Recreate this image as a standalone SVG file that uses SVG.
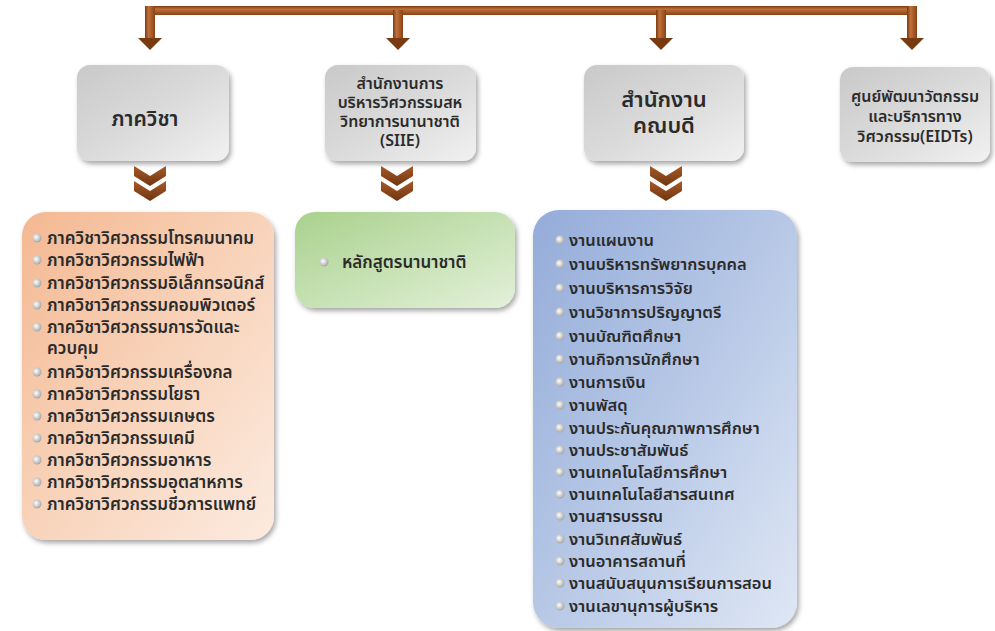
<svg xmlns="http://www.w3.org/2000/svg" width="995" height="631" viewBox="0 0 995 631">
<defs>
<linearGradient id="gGray" x1="0" y1="0" x2="1" y2="1">
<stop offset="0" stop-color="#c9c9c9"/>
<stop offset="0.5" stop-color="#dadada"/>
<stop offset="1" stop-color="#f1f1f1"/>
</linearGradient>
<linearGradient id="gOrange" x1="0" y1="0" x2="1" y2="1">
<stop offset="0" stop-color="#f4b892"/>
<stop offset="0.5" stop-color="#f8d3ba"/>
<stop offset="1" stop-color="#fcebe0"/>
</linearGradient>
<linearGradient id="gGreen" x1="0" y1="0" x2="1" y2="1">
<stop offset="0" stop-color="#a9d18e"/>
<stop offset="0.5" stop-color="#c6e1b3"/>
<stop offset="1" stop-color="#e3f0d9"/>
</linearGradient>
<linearGradient id="gBlue" x1="0" y1="0" x2="1" y2="1">
<stop offset="0" stop-color="#94acd9"/>
<stop offset="0.5" stop-color="#b7c8e6"/>
<stop offset="1" stop-color="#dfe7f5"/>
</linearGradient>
<linearGradient id="gBar" x1="0" y1="0" x2="0" y2="1">
<stop offset="0" stop-color="#7a3a10"/>
<stop offset="0.35" stop-color="#c0703a"/>
<stop offset="1" stop-color="#8a4316"/>
</linearGradient>
<linearGradient id="gBarV" x1="0" y1="0" x2="1" y2="0">
<stop offset="0" stop-color="#7a3a10"/>
<stop offset="0.35" stop-color="#c0703a"/>
<stop offset="1" stop-color="#8a4316"/>
</linearGradient>
<linearGradient id="gChev" x1="0" y1="0" x2="0" y2="1">
<stop offset="0" stop-color="#a85a28"/>
<stop offset="1" stop-color="#6e3510"/>
</linearGradient>
<radialGradient id="gBullet" cx="0.4" cy="0.4" r="0.6">
<stop offset="0" stop-color="#ffffff"/>
<stop offset="1" stop-color="#a8a8a8"/>
</radialGradient>
<filter id="shadow" x="-10%" y="-10%" width="125%" height="125%">
<feDropShadow dx="2" dy="3" stdDeviation="2.5" flood-color="#000" flood-opacity="0.35"/>
</filter>
<path id="chev" d="M-16,0 L0,10 L16,0 L16,10 L0,20 L-16,10 Z"/>
<path id="arrowHead" d="M-12,0 L12,0 L0,12 Z"/>
</defs>
<style>
text { font-family: "Noto Sans Thai", "Tahoma", "Noto Sans", "DejaVu Sans", sans-serif; fill: #2b2b2b; font-weight: 600; }
.head { font-size: 16px; text-anchor: middle; }
.headBig { font-size: 21px; text-anchor: middle; }
.headBig2 { font-size: 22px; text-anchor: middle; }
.item { font-size: 17px; }
.itemB { font-size: 16.5px; }
.bullet { fill: url(#gBullet); }
</style>

<g id="connectors">
<rect x="145" y="6" width="772" height="9" fill="url(#gBar)"/>
<rect x="145" y="6" width="10" height="32" fill="url(#gBarV)"/>
<rect x="393" y="10" width="10" height="28" fill="url(#gBarV)"/>
<rect x="656" y="10" width="10" height="28" fill="url(#gBarV)"/>
<rect x="907" y="6" width="10" height="32" fill="url(#gBarV)"/>
<use href="#arrowHead" x="150" y="38" fill="#7a3a10"/>
<use href="#arrowHead" x="398" y="38" fill="#7a3a10"/>
<use href="#arrowHead" x="661" y="38" fill="#7a3a10"/>
<use href="#arrowHead" x="912" y="38" fill="#7a3a10"/>
<use href="#chev" x="150" y="166" fill="url(#gChev)"/>
<use href="#chev" x="150" y="181" fill="url(#gChev)"/>
<use href="#chev" x="397" y="166" fill="url(#gChev)"/>
<use href="#chev" x="397" y="181" fill="url(#gChev)"/>
<use href="#chev" x="666" y="166" fill="url(#gChev)"/>
<use href="#chev" x="666" y="181" fill="url(#gChev)"/>
</g>

<g id="node-dept">
<rect x="77" y="65" width="152" height="96" rx="13" fill="url(#gGray)" filter="url(#shadow)"/>
<text class="headBig" x="145" y="126">ภาควิชา</text>
</g>

<g id="node-siie">
<rect x="325" y="65" width="151" height="96" rx="13" fill="url(#gGray)" filter="url(#shadow)"/>
<text class="head" x="400" y="89">สำนักงานการ</text>
<text class="head" x="400" y="108">บริหารวิศวกรรมสห</text>
<text class="head" x="400" y="127">วิทยาการนานาชาติ</text>
<text class="head" x="400" y="146">(SIIE)</text>
</g>

<g id="node-dean">
<rect x="584" y="65" width="160" height="96" rx="13" fill="url(#gGray)" filter="url(#shadow)"/>
<text class="headBig2" x="664" y="107">สำนักงาน</text>
<text class="headBig2" x="664" y="133">คณบดี</text>
</g>

<g id="node-eidts">
<rect x="840" y="67" width="150" height="95" rx="13" fill="url(#gGray)" filter="url(#shadow)"/>
<text class="head" x="915" y="102">ศูนย์พัฒนาวัตกรรม</text>
<text class="head" x="915" y="122">และบริการทาง</text>
<text class="head" x="915" y="142">วิศวกรรม(EIDTs)</text>
</g>

<g id="node-dept-list">
<rect x="22" y="212" width="252" height="328" rx="24" fill="url(#gOrange)" filter="url(#shadow)"/>
<g class="bullet">
<circle cx="37" cy="238" r="4.5"/>
<circle cx="37" cy="260" r="4.5"/>
<circle cx="37" cy="283" r="4.5"/>
<circle cx="37" cy="305" r="4.5"/>
<circle cx="37" cy="327" r="4.5"/>
<circle cx="37" cy="372" r="4.5"/>
<circle cx="37" cy="394" r="4.5"/>
<circle cx="37" cy="416" r="4.5"/>
<circle cx="37" cy="438" r="4.5"/>
<circle cx="37" cy="460" r="4.5"/>
<circle cx="37" cy="482" r="4.5"/>
<circle cx="37" cy="504" r="4.5"/>
</g>
<text class="item" x="47" y="244">ภาควิชาวิศวกรรมโทรคมนาคม</text>
<text class="item" x="47" y="266">ภาควิชาวิศวกรรมไฟฟ้า</text>
<text class="item" x="47" y="289">ภาควิชาวิศวกรรมอิเล็กทรอนิกส์</text>
<text class="item" x="47" y="311">ภาควิชาวิศวกรรมคอมพิวเตอร์</text>
<text class="item" x="47" y="333">ภาควิชาวิศวกรรมการวัดและ</text>
<text class="item" x="47" y="354">ควบคุม</text>
<text class="item" x="47" y="378">ภาควิชาวิศวกรรมเครื่องกล</text>
<text class="item" x="47" y="400">ภาควิชาวิศวกรรมโยธา</text>
<text class="item" x="47" y="422">ภาควิชาวิศวกรรมเกษตร</text>
<text class="item" x="47" y="444">ภาควิชาวิศวกรรมเคมี</text>
<text class="item" x="47" y="466">ภาควิชาวิศวกรรมอาหาร</text>
<text class="item" x="47" y="488">ภาควิชาวิศวกรรมอุตสาหการ</text>
<text class="item" x="47" y="510">ภาควิชาวิศวกรรมชีวการแพทย์</text>
</g>

<g id="node-siie-list">
<rect x="295" y="212" width="220" height="96" rx="20" fill="url(#gGreen)" filter="url(#shadow)"/>
<circle class="bullet" cx="324" cy="262" r="4.5"/>
<text class="item" x="342" y="268">หลักสูตรนานาชาติ</text>
</g>

<g id="node-dean-list">
<rect x="533" y="210" width="264" height="418" rx="26" fill="url(#gBlue)" filter="url(#shadow)"/>
<g class="bullet">
<circle cx="560" cy="240" r="4.5"/>
<circle cx="560" cy="264" r="4.5"/>
<circle cx="560" cy="288" r="4.5"/>
<circle cx="560" cy="312" r="4.5"/>
<circle cx="560" cy="336" r="4.5"/>
<circle cx="560" cy="359" r="4.5"/>
<circle cx="560" cy="382" r="4.5"/>
<circle cx="560" cy="405" r="4.5"/>
<circle cx="560" cy="428" r="4.5"/>
<circle cx="560" cy="450" r="4.5"/>
<circle cx="560" cy="472" r="4.5"/>
<circle cx="560" cy="494" r="4.5"/>
<circle cx="560" cy="516" r="4.5"/>
<circle cx="560" cy="539" r="4.5"/>
<circle cx="560" cy="561" r="4.5"/>
<circle cx="560" cy="583" r="4.5"/>
<circle cx="560" cy="606" r="4.5"/>
</g>
<text class="itemB" x="569" y="246">งานแผนงาน</text>
<text class="itemB" x="569" y="270">งานบริหารทรัพยากรบุคคล</text>
<text class="itemB" x="569" y="294">งานบริหารการวิจัย</text>
<text class="itemB" x="569" y="318">งานวิชาการปริญญาตรี</text>
<text class="itemB" x="569" y="342">งานบัณฑิตศึกษา</text>
<text class="itemB" x="569" y="365">งานกิจการนักศึกษา</text>
<text class="itemB" x="569" y="388">งานการเงิน</text>
<text class="itemB" x="569" y="411">งานพัสดุ</text>
<text class="itemB" x="569" y="434">งานประกันคุณภาพการศึกษา</text>
<text class="itemB" x="569" y="456">งานประชาสัมพันธ์</text>
<text class="itemB" x="569" y="478">งานเทคโนโลยีการศึกษา</text>
<text class="itemB" x="569" y="500">งานเทคโนโลยีสารสนเทศ</text>
<text class="itemB" x="569" y="522">งานสารบรรณ</text>
<text class="itemB" x="569" y="545">งานวิเทศสัมพันธ์</text>
<text class="itemB" x="569" y="567">งานอาคารสถานที่</text>
<text class="itemB" x="569" y="589">งานสนับสนุนการเรียนการสอน</text>
<text class="itemB" x="569" y="612">งานเลขานุการผู้บริหาร</text>
</g>
</svg>
